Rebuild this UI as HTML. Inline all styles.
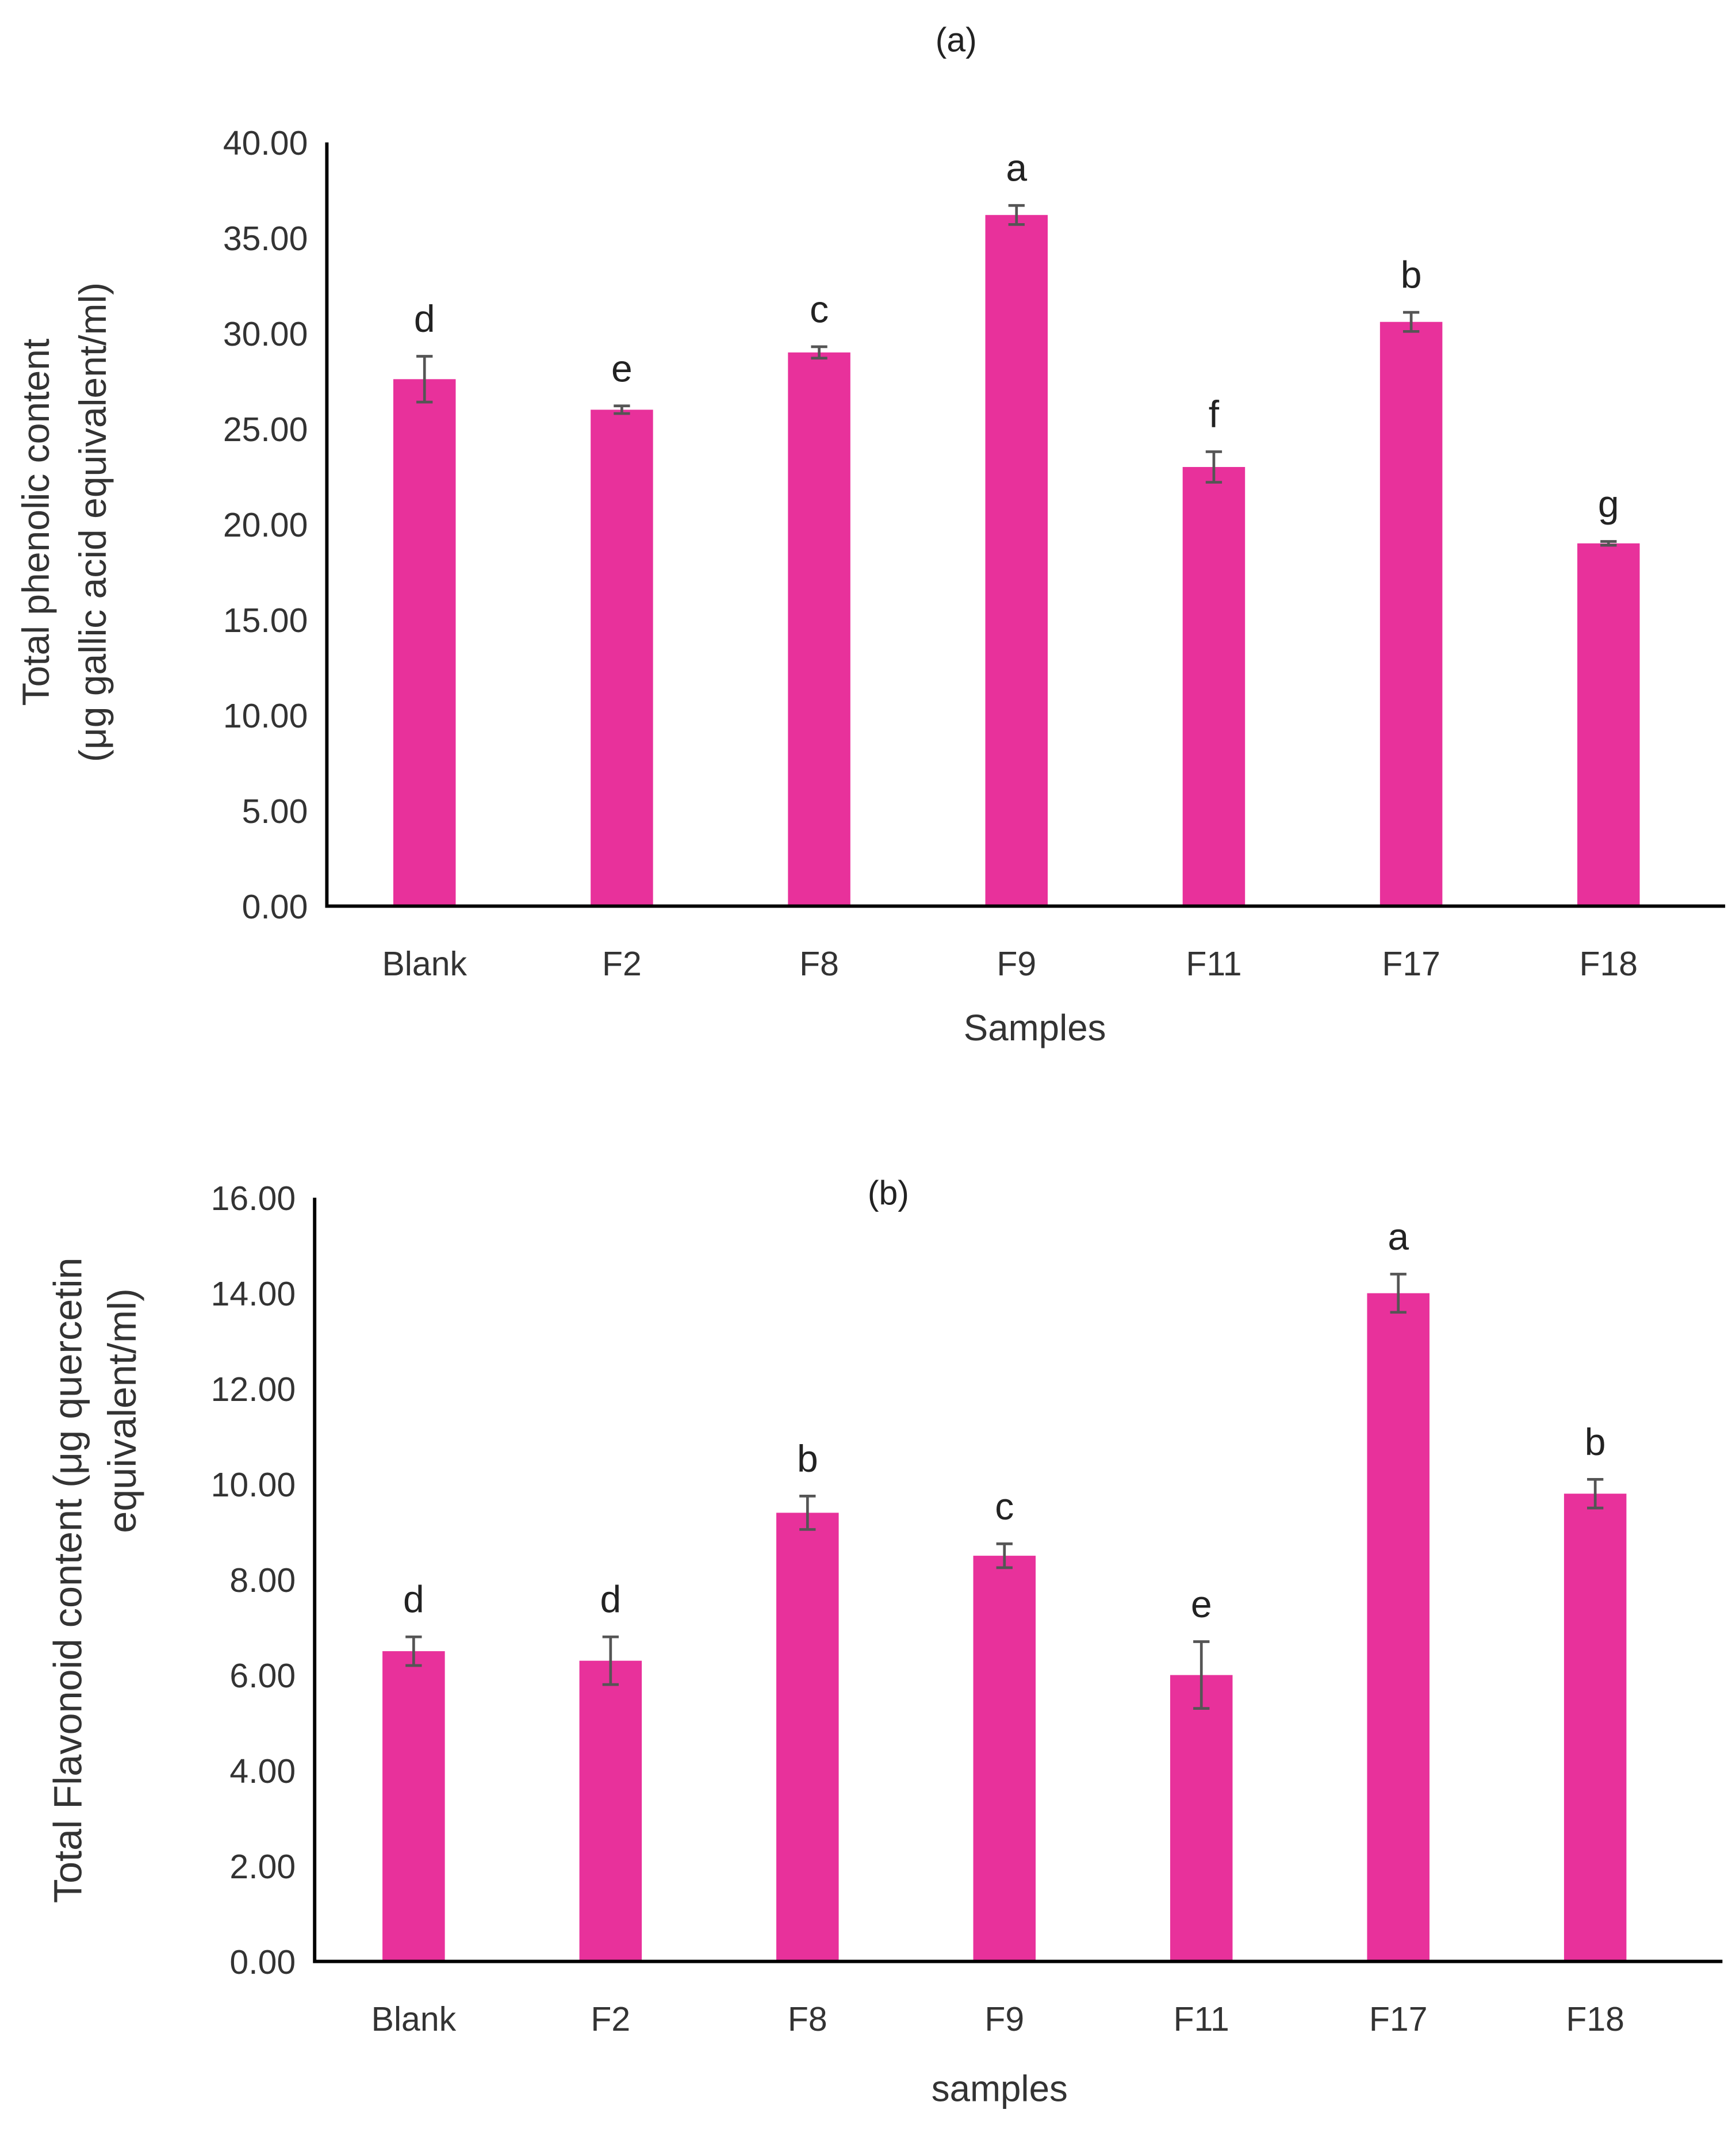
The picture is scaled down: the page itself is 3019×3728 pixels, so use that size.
<!DOCTYPE html>
<html><head><meta charset="utf-8"><style>
html,body{margin:0;padding:0;background:#fff;}
svg{display:block;font-family:"Liberation Sans",sans-serif;}
</style></head><body>
<svg id="fig" width="3019" height="3728" viewBox="0 0 1280 1580.6" xmlns="http://www.w3.org/2000/svg">
<rect x="0" y="0" width="1280" height="1581" fill="#fff"/>
</svg>
<script>
const categories = ["Blank","F2","F8","F9","F11","F17","F18"];
const phenolValues = [27.6,26.0,29.0,36.2,23.0,30.6,19.0];
const phenolErrors = [1.2,0.2,0.3,0.5,0.8,0.5,0.1];
const phenolLetters = ["d","e","c","a","f","b","g"];
const phenolTicks = ["0.00","5.00","10.00","15.00","20.00","25.00","30.00","35.00","40.00"];
const flavValues = [6.5,6.3,9.4,8.5,6.0,14.0,9.8];
const flavErrors = [0.3,0.5,0.35,0.25,0.7,0.4,0.3];
const flavLetters = ["d","d","b","c","e","a","b"];
const flavTicks = ["0.00","2.00","4.00","6.00","8.00","10.00","12.00","14.00","16.00"];

const NS="http://www.w3.org/2000/svg";
const svg=document.getElementById('fig');
function mk(tag,attrs,parent,text){const e=document.createElementNS(NS,tag);for(const k in attrs)e.setAttribute(k,attrs[k]);if(text!==undefined)e.textContent=text;(parent||svg).appendChild(e);return e;}

function chart(cfg){
  const g=mk('g',{});
  
  
  const yMax=cfg.max, y=v=>cfg.y0-(v/yMax)*(cfg.y0-cfg.y1);
  const x0=cfg.x0, x1=cfg.x1;
  const xc=i=>cfg.first+cfg.step*i;
  cfg.ticks.forEach((t,i)=>{
    const v=yMax*i/(cfg.ticks.length-1);
    const tl=mk('text',{x:x0-14,y:y(v)+9,'text-anchor':'end','font-size':25,fill:'#333'},g,t);
    
    
  });
  categories.forEach((c,i)=>{
    const v=cfg.values[i], e=cfg.errors[i], cx=xc(i);
    const b=mk('rect',{x:cx-23,y:y(v),width:46,height:cfg.y0-y(v),fill:'#e8319b'},g);
    
    
    const eg=mk('path',{d:`M${cx},${y(v+e)}V${y(v-e)}M${cx-6},${y(v+e)}H${cx+6}M${cx-6},${y(v-e)}H${cx+6}`,stroke:'#555',"stroke-width":2,fill:'none'},g);
    
    
    const lt=mk('text',{x:cx,y:y(v+e)-18,'text-anchor':'middle','font-size':28,fill:'#222'},g,cfg.letters[i]);
    
    
    const xl=mk('text',{x:cx,y:cfg.y0+51,'text-anchor':'middle','font-size':25,fill:'#333'},g,c);
    
    
  });
  const ax=mk('path',{d:`M${x0},${cfg.y1}V${cfg.y0}H${x1}`,stroke:'#000','stroke-width':2.5,fill:'none'},g);
  
  
  return g;
}
chart({name:'chart-a',x0:241,x1:1272,y0:668,y1:105,max:40,first:313,step:145.5,values:phenolValues,errors:phenolErrors,letters:phenolLetters,ticks:phenolTicks});
chart({name:'chart-b',x0:232,x1:1270,y0:1446,y1:883,max:16,first:305,step:145.2,values:flavValues,errors:flavErrors,letters:flavLetters,ticks:flavTicks});

function label(txt,attrs,name){const t=mk('text',attrs,svg,txt);return t;}
label('(a)',{x:705,y:38,'text-anchor':'middle','font-size':25,fill:'#222'},'chart-a-title');
label('Samples',{x:763,y:767,'text-anchor':'middle','font-size':27,fill:'#333'},'chart-a-x-title');
label('Total phenolic content',{transform:'translate(36,385) rotate(-90)','text-anchor':'middle','font-size':28,fill:'#333'},'chart-a-y-title-1');
label('(μg gallic acid equivalent/ml)',{transform:'translate(78,385) rotate(-90)','text-anchor':'middle','font-size':28,fill:'#333'},'chart-a-y-title-2');
label('(b)',{x:655,y:888,'text-anchor':'middle','font-size':25,fill:'#222'},'chart-b-title');
label('samples',{x:737,y:1549,'text-anchor':'middle','font-size':27,fill:'#333'},'chart-b-x-title');
label('Total Flavonoid content  (μg   quercetin',{transform:'translate(60,1165) rotate(-90)','text-anchor':'middle','font-size':29,fill:'#333'},'chart-b-y-title-1');
label('equivalent/ml)',{transform:'translate(100,1040) rotate(-90)','text-anchor':'middle','font-size':29,fill:'#333'},'chart-b-y-title-2');
</script>
</body></html>
